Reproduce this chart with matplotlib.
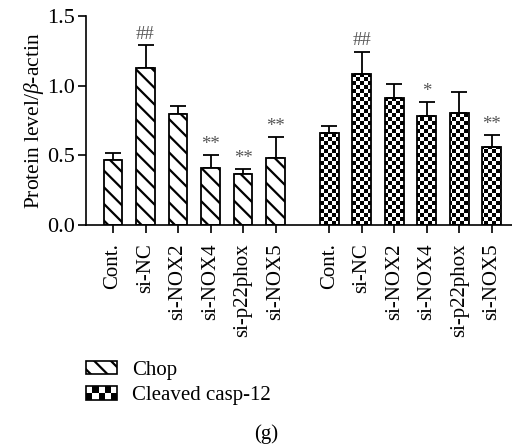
import numpy as np
import matplotlib
matplotlib.use('Agg')
import matplotlib.pyplot as plt
from matplotlib.patches import Patch, Rectangle
from matplotlib.path import Path
from matplotlib.legend_handler import HandlerBase

# data
groups = ['Cont.', 'si-NC', 'si-NOX2', 'si-NOX4', 'si-p22phox', 'si-NOX5']
chop = [0.47, 1.125, 0.80, 0.41, 0.37, 0.48]
chop_err = [0.05, 0.17, 0.055, 0.09, 0.03, 0.15]
chop_marks = ['', '##', '', '**', '**', '**']
casp = [0.66, 1.085, 0.915, 0.785, 0.805, 0.56]
casp_err = [0.05, 0.16, 0.10, 0.10, 0.15, 0.085]
casp_marks = ['', '##', '', '*', '', '**']

plt.rcParams['font.family'] = ['Liberation Serif', 'DejaVu Serif']
plt.rcParams['mathtext.fontset'] = 'custom'
plt.rcParams['mathtext.rm'] = 'Liberation Serif'
plt.rcParams['mathtext.it'] = 'Liberation Serif:italic'
plt.rcParams['hatch.linewidth'] = 1.6

fig = plt.figure(figsize=(5.12, 4.45), dpi=100)
ax = fig.add_axes([0.168, 0.494, 0.84, 0.47])
ax.patch.set_visible(False)

x1 = np.arange(len(groups))
x2 = x1 + len(groups) + 0.65
w = 0.58

b1 = ax.bar(x1, chop, w, color='white', edgecolor='black', linewidth=1.3,
            hatch='\\\\', zorder=2)
ax.errorbar(x1, chop, yerr=[np.zeros(len(chop)), chop_err], fmt='none',
            ecolor='black', elinewidth=1.3, capsize=6, capthick=1.3, zorder=1)
b2 = ax.bar(x2, casp, w, color='none', edgecolor='black', linewidth=1.3, zorder=2)
ax.errorbar(x2, casp, yerr=[np.zeros(len(casp)), casp_err], fmt='none',
            ecolor='black', elinewidth=1.3, capsize=6, capthick=1.3, zorder=1)

# significance marks
for xs, vals, errs, marks in [(x1, chop, chop_err, chop_marks), (x2, casp, casp_err, casp_marks)]:
    for xx, v, e, m in zip(xs, vals, errs, marks):
        if m:
            ax.text(xx, v + e + 0.015, m, ha='center', va='bottom', fontsize=13.5,
                    color='#555555')

# checkerboard texture for casp-12 bars (pixel grid, clipped to the bars)
H, W = 445, 512
cs = 4
yy, xx = np.mgrid[0:H, 0:W]
board = ((yy // cs + xx // cs) % 2).astype(float)
img = fig.figimage(board, 0, 0, cmap='gray', vmin=0, vmax=1, origin='lower', zorder=-1)
clip = Path.make_compound_path(*[b.get_path().transformed(b.get_patch_transform()) for b in b2])
img.set_clip_path(clip, ax.transData)

ax.set_ylim(0, 1.5)
ax.set_yticks([0, 0.5, 1.0, 1.5])
ax.set_yticklabels(['0.0', '0.5', '1.0', '1.5'])
ax.set_xlim(-0.83, x2[-1] + 0.75)
ax.set_xticks(np.concatenate([x1, x2]))
ax.set_xticklabels(groups + groups, rotation=90)
ax.tick_params(axis='both', labelsize=15, width=1.2, length=6, direction='out')
ax.tick_params(axis='y', labelsize=16)
ax.tick_params(axis='x', pad=7)
ax.tick_params(axis='y', pad=2)
ax.spines['top'].set_visible(False)
ax.spines['right'].set_visible(False)
ax.spines['left'].set_linewidth(1.2)
ax.spines['bottom'].set_linewidth(1.2)
ax.set_ylabel(r'Protein level/$\beta$-actin', fontsize=15.5, labelpad=1)


class HandlerCheck(HandlerBase):
    def create_artists(self, legend, orig_handle, xdescent, ydescent, width, height, fontsize, trans):
        arts = []
        rows = 2
        s = height / rows
        cols = int(round(width / s))
        sw = width / cols
        for r in range(rows):
            for c in range(cols):
                if (r + c) % 2 == 0:
                    arts.append(Rectangle((-xdescent + c * sw, -ydescent + r * s), sw, s,
                                          facecolor='black', edgecolor='none', transform=trans))
        arts.append(Rectangle((-xdescent, -ydescent), width, height, facecolor='none',
                              edgecolor='black', linewidth=1.2, transform=trans))
        return arts


h1 = Patch(facecolor='white', edgecolor='black', hatch='\\\\', linewidth=1.2)
h2 = Patch(facecolor='white', edgecolor='black')
fig.legend([h1, h2], ['Chop', 'Cleaved casp-12'], handler_map={h2: HandlerCheck()},
           loc='upper left', bbox_to_anchor=(86 / 512, 1 - 361 / 445), frameon=False,
           fontsize=15, handlelength=1.5, handleheight=0.6, handletextpad=0.7,
           labelspacing=0.3, borderpad=0, borderaxespad=0)

fig.text(266 / 512, 1 - 434 / 445, '(g)', ha='center', va='center', fontsize=15)

fig.savefig('out.png', dpi=100)
